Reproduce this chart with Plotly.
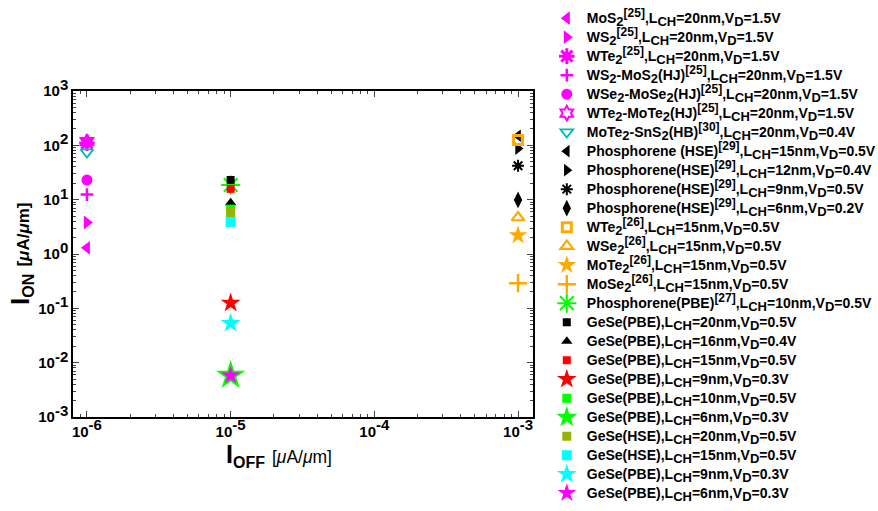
import re
import plotly.graph_objects as go

names = [
    "MoS<sub>2</sub><sup>[25]</sup>,L<sub>CH</sub>=20nm,V<sub>D</sub>=1.5V",
    "WS<sub>2</sub><sup>[25]</sup>,L<sub>CH</sub>=20nm,V<sub>D</sub>=1.5V",
    "WTe<sub>2</sub><sup>[25]</sup>,L<sub>CH</sub>=20nm,V<sub>D</sub>=1.5V",
    "WS<sub>2</sub>-MoS<sub>2</sub>(HJ)<sup>[25]</sup>,L<sub>CH</sub>=20nm,V<sub>D</sub>=1.5V",
    "WSe<sub>2</sub>-MoSe<sub>2</sub>(HJ)<sup>[25]</sup>,L<sub>CH</sub>=20nm,V<sub>D</sub>=1.5V",
    "WTe<sub>2</sub>-MoTe<sub>2</sub>(HJ)<sup>[25]</sup>,L<sub>CH</sub>=20nm,V<sub>D</sub>=1.5V",
    "MoTe<sub>2</sub>-SnS<sub>2</sub>(HB)<sup>[30]</sup>,L<sub>CH</sub>=20nm,V<sub>D</sub>=0.4V",
    "Phosphorene (HSE)<sup>[29]</sup>,L<sub>CH</sub>=15nm,V<sub>D</sub>=0.5V",
    "Phosphorene(HSE)<sup>[29]</sup>,L<sub>CH</sub>=12nm,V<sub>D</sub>=0.4V",
    "Phosphorene(HSE)<sup>[29]</sup>,L<sub>CH</sub>=9nm,V<sub>D</sub>=0.5V",
    "Phosphorene(HSE)<sup>[29]</sup>,L<sub>CH</sub>=6nm,V<sub>D</sub>=0.2V",
    "WTe<sub>2</sub><sup>[26]</sup>,L<sub>CH</sub>=15nm,V<sub>D</sub>=0.5V",
    "WSe<sub>2</sub><sup>[26]</sup>,L<sub>CH</sub>=15nm,V<sub>D</sub>=0.5V",
    "MoTe<sub>2</sub><sup>[26]</sup>,L<sub>CH</sub>=15nm,V<sub>D</sub>=0.5V",
    "MoSe<sub>2</sub><sup>[26]</sup>,L<sub>CH</sub>=15nm,V<sub>D</sub>=0.5V",
    "Phosphorene(PBE)<sup>[27]</sup>,L<sub>CH</sub>=10nm,V<sub>D</sub>=0.5V",
    "GeSe(PBE),L<sub>CH</sub>=20nm,V<sub>D</sub>=0.5V",
    "GeSe(PBE),L<sub>CH</sub>=16nm,V<sub>D</sub>=0.4V",
    "GeSe(PBE),L<sub>CH</sub>=15nm,V<sub>D</sub>=0.5V",
    "GeSe(PBE),L<sub>CH</sub>=9nm,V<sub>D</sub>=0.3V",
    "GeSe(PBE),L<sub>CH</sub>=10nm,V<sub>D</sub>=0.5V",
    "GeSe(PBE),L<sub>CH</sub>=6nm,V<sub>D</sub>=0.3V",
    "GeSe(HSE),L<sub>CH</sub>=20nm,V<sub>D</sub>=0.5V",
    "GeSe(HSE),L<sub>CH</sub>=15nm,V<sub>D</sub>=0.5V",
    "GeSe(PBE),L<sub>CH</sub>=9nm,V<sub>D</sub>=0.3V",
    "GeSe(PBE),L<sub>CH</sub>=6nm,V<sub>D</sub>=0.3V",
]

i_off = [1e-6, 1e-6, 1e-6, 1e-6, 1e-6, 1e-6, 1e-6,
         1e-3, 1e-3, 1e-3, 1e-3, 1e-3, 1e-3, 1e-3, 1e-3,
         1e-5, 1e-5, 1e-5, 1e-5, 1e-5, 1e-5, 1e-5, 1e-5, 1e-5, 1e-5, 1e-5]

i_on = [1.3, 3.8, 110, 12.4, 23, 117, 75,
        150, 87, 42, 9.9, 126, 4.7, 2.2, 0.29,
        18.6, 23, 8.8, 15.8, 0.125, 6.7, 0.0058, 5.8, 3.9, 0.053, 0.0058]

x_ticks = [1e-6, 1e-5, 1e-4, 1e-3]
x_exps = ["-6", "-5", "-4", "-3"]
y_ticks = [1e-3, 1e-2, 1e-1, 1e0, 1e1, 1e2, 1e3]
y_exps = ["-3", "-2", "-1", "0", "1", "2", "3"]


def tick_label(e):
    return "<b>10<sup><span style='font-size:15px'>" + e + "</span></sup></b>"


def legend_label(s):
    s = re.sub(r"<sub>(.*?)</sub>", r"<sub><span style='font-size:13px'>\1</span></sub>", s)
    s = re.sub(r"<sup>(.*?)</sup>", r"<sup><span style='font-size:12px'>\1</span></sup>", s)
    return "<span style='font-size:14px'><b>" + s + "</b></span>"


MAG = "#ff00ff"
TEAL = "#00b8b8"
ORG = "#ffaa00"
GRN = "#00ff00"
styles = [
    ("triangle-left", MAG, 12, 0),
    ("triangle-right", MAG, 12, 0),
    ("asterisk-open", MAG, 13, 3),
    ("cross-thin-open", MAG, 9, 2.5),
    ("circle", MAG, 11, 0),
    ("hexagram-open", MAG, 11, 2),
    ("triangle-down-open", TEAL, 11, 1.8),
    ("triangle-left", "black", 11, 0),
    ("triangle-right", "black", 11, 0),
    ("asterisk-open", "black", 10, 2),
    ("diamond-tall", "black", 12, 0),
    ("square-open", ORG, 9, 3),
    ("triangle-up-open", ORG, 11, 2.2),
    ("star", ORG, 14, 0),
    ("cross-thin-open", ORG, 13, 2.5),
    ("asterisk-open", GRN, 16, 2),
    ("square", "black", 8, 0),
    ("triangle-up", "black", 10, 0),
    ("square", "#ff0000", 8, 0),
    ("star", "#ff0000", 15, 0),
    ("square", GRN, 9, 0),
    ("star", GRN, 22, 0),
    ("square", "#99b300", 9, 0),
    ("square", "#00ffff", 10, 0),
    ("star", "#00ffff", 15, 0),
    ("star", MAG, 14, 0),
]

fig = go.Figure()
for name, xv, yv, (sym, col, sz, lw) in zip(names, i_off, i_on, styles):
    fig.add_trace(go.Scatter(
        x=[xv], y=[yv], mode="markers", name=legend_label(name),
        marker=dict(symbol=sym, color=col, size=sz,
                    line=dict(color=col, width=lw)),
    ))

FONT = "Liberation Sans, Arial, sans-serif"
fig.update_layout(
    width=878, height=511,
    margin=dict(l=73, r=345, t=91, b=94, autoexpand=False),
    plot_bgcolor="white", paper_bgcolor="white",
    font=dict(family=FONT, color="black"),
    showlegend=True,
    legend=dict(x=1.03, y=1.268, xanchor="left", yanchor="top",
                font=dict(size=12.3, family=FONT, color="black"),
                tracegroupgap=0, bgcolor="rgba(0,0,0,0)", maxheight=530),
    xaxis=dict(type="log", range=[-6.097, -2.896], tickvals=x_ticks,
               ticktext=[tick_label(e) for e in x_exps],
               ticks="inside", ticklen=6, tickwidth=1, showline=True, linecolor="black",
               linewidth=1.5, mirror="ticks", showgrid=False, zeroline=False,
               tickfont=dict(size=15, family=FONT),
               minor=dict(ticks="inside", ticklen=3, dtick="D1", showgrid=False)),
    yaxis=dict(type="log", range=[-3, 3], tickvals=y_ticks,
               ticktext=[tick_label(e) for e in y_exps],
               ticks="inside", ticklen=6, tickwidth=1, showline=True, linecolor="black",
               linewidth=1.5, mirror="ticks", showgrid=False, zeroline=False,
               tickfont=dict(size=15, family=FONT),
               minor=dict(ticks="inside", ticklen=3, dtick="D1", showgrid=False)),
)

fig.add_annotation(
    xref="paper", yref="paper", x=0.448, y=-0.118, xanchor="center", yanchor="middle",
    showarrow=False,
    text="<b>I<sub><span style='font-size:16px'>OFF</span></sub></b> <span style='font-size:17.5px'>[<i>μ</i>A/<i>μ</i>m]</span>",
    font=dict(size=25, family=FONT, color="black"),
)
fig.add_annotation(
    xref="paper", yref="paper", x=-0.113, y=0.5, xanchor="center", yanchor="middle",
    showarrow=False, textangle=-90,
    text="<b>I<sub><span style='font-size:16px'>ON</span></sub></b> <span style='font-size:17px'><b>[<i>μ</i>A/<i>μ</i>m]</b></span>",
    font=dict(size=26, family=FONT, color="black"),
)

fig.write_html("out.html")
